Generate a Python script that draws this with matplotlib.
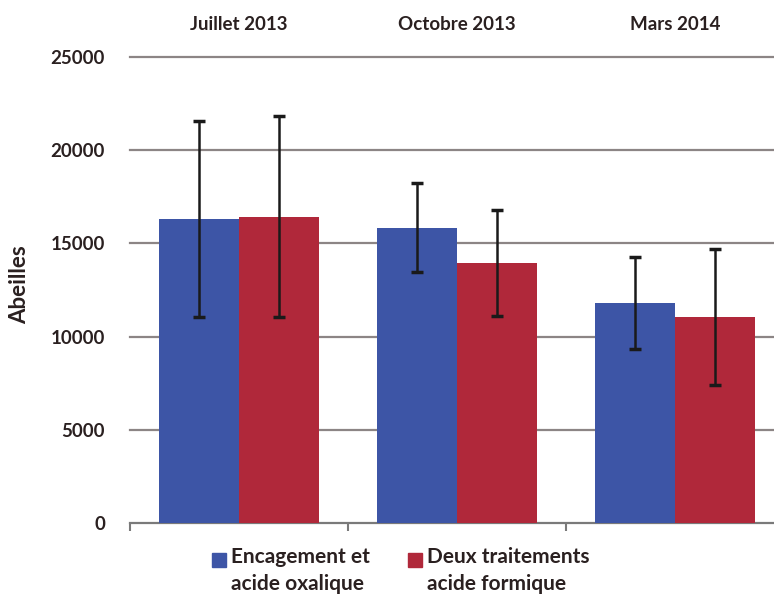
import matplotlib
matplotlib.use("Agg")
import matplotlib.pyplot as plt
from matplotlib.patches import Rectangle
import numpy as np

categories = ["Juillet 2013", "Octobre 2013", "Mars 2014"]
series_names = ["Encagement et\nacide oxalique", "Deux traitements\nacide formique"]
encagement = [16300, 15850, 11800]
encagement_err = [5270, 2400, 2480]
deux_trait = [16430, 13930, 11040]
deux_trait_err = [5380, 2850, 3660]
yticks = [0, 5000, 10000, 15000, 20000, 25000]

blue = "#3d55a6"
red = "#b0283a"
txt = "#2a2020"
font = ["Lato", "DejaVu Sans"]
plt.rcParams["font.family"] = font

W, H = 774, 597
fig = plt.figure(figsize=(W / 100, H / 100), dpi=100)
ax = fig.add_axes([130/W, 74/H, 654/W, 466/H])

x = np.arange(len(categories))
w = 0.365
ekw = dict(ecolor="#1a1a1a", elinewidth=1.8, capsize=4.3, capthick=2.5)
ax.bar(x - w/2, encagement, w, color=blue, yerr=encagement_err, error_kw=ekw, zorder=3)
ax.bar(x + w/2, deux_trait, w, color=red, yerr=deux_trait_err, error_kw=ekw, zorder=3)

ax.set_xlim(-0.5, 2.5)
ax.set_ylim(0, 25000)
ax.set_yticks(yticks)
ax.set_yticklabels([str(t) for t in yticks], fontsize=13.5, fontweight="bold", color=txt)
ax.tick_params(axis="y", length=0, pad=18)
for t in yticks[1:]:
    ax.axhline(t, color="#8c8585", lw=1.6, zorder=1, clip_on=False)

ax.set_xticks([-0.5, 0.5, 1.5, 2.5])
ax.set_xticklabels([])
ax.tick_params(axis="x", direction="out", length=6, width=1.5, color="#7a7a7a")
for s in ["top", "right", "left"]:
    ax.spines[s].set_visible(False)
ax.spines["bottom"].set_color("#7a7a7a")
ax.spines["bottom"].set_linewidth(1.6)

for xi, c in zip(x, categories):
    ax.text(xi, 26750, c, ha="center", va="center", fontsize=13.5,
            fontweight="bold", color=txt, clip_on=False)

fig.text(20 / W, (H - 285) / H, "Abeilles", rotation=90, ha="center", va="center",
         fontsize=16, fontweight="bold", color=txt)

# legend drawn manually so the swatch aligns with the first text line
for (sx, tx), col, name in zip([(212, 231), (408, 427)], [blue, red], series_names):
    fig.add_artist(Rectangle((sx / W, (H - 567) / H), 14 / W, 14 / H,
                             transform=fig.transFigure, color=col))
    fig.text(tx / W, (H - 547) / H, name, ha="left", va="top", fontsize=15,
             fontweight="bold", color=txt, linespacing=1.45)

fig.savefig("out.png", dpi=100)
